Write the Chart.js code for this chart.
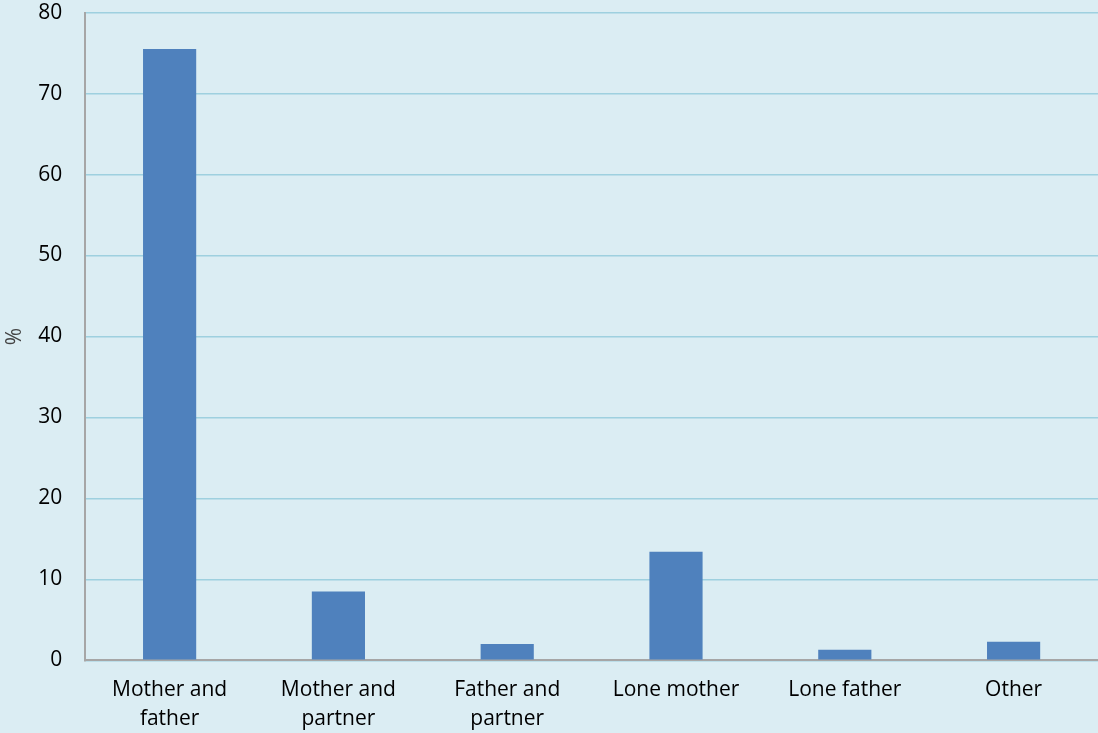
<!DOCTYPE html>
<html>
<head>
<meta charset="utf-8">
<script src="https://cdn.jsdelivr.net/npm/chart.js@4"></script>
<style>
  html, body { margin: 0; padding: 0; background: #dbedf3; }
  #wrap { width: 1098px; height: 733px; }
</style>
</head>
<body>
<div id="wrap"><canvas id="barChart"></canvas></div>
<script>
const categories = [["Mother and", "father"], ["Mother and", "partner"], ["Father and", "partner"], "Lone mother", "Lone father", "Other"];
const shares = [75.5, 8.5, 2.0, 13.4, 1.3, 2.3];
const yTicks = [0, 10, 20, 30, 40, 50, 60, 70, 80];

Chart.defaults.font.family = "'Open Sans', 'Noto Sans', sans-serif";
Chart.defaults.color = '#000';

new Chart(document.getElementById('barChart'), {
    type: 'bar',
    data: {
        labels: categories,
        datasets: [{
            data: shares,
            backgroundColor: '#4f81bd',
            borderColor: '#4f81bd',
            borderWidth: 0,
            barPercentage: 0.315,
            categoryPercentage: 1
        }]
    },
    options: {
        responsive: true,
        maintainAspectRatio: false,
        animation: false,
        layout: { padding: { top: 0, right: 0, bottom: -16, left: 0 } },
        scales: {
            x: {
                grid: { display: false, drawTicks: false },
                border: { color: '#a6a6a6', width: 2 },
                ticks: { font: { size: 21, lineHeight: 1.35 }, padding: 16, maxRotation: 0 }
            },
            y: {
                min: 0,
                max: 80,
                afterBuildTicks: axis => { axis.ticks = yTicks.map(v => ({ value: v })); },
                // tick marks are hidden; their length gives the gap between labels and axis
                grid: { color: '#9ed0df', lineWidth: 1.5, drawTicks: true, tickLength: 23, tickColor: 'rgba(0,0,0,0)' },
                border: { color: '#a6a6a6', width: 2 },
                ticks: { font: { size: 21 }, padding: 0 },
                title: { display: true, text: '%', font: { size: 21 }, color: '#444', padding: { top: 2, bottom: 11 } }
            }
        },
        plugins: {
            legend: { display: false },
            tooltip: { enabled: false }
        }
    }
});
</script>
</body>
</html>
